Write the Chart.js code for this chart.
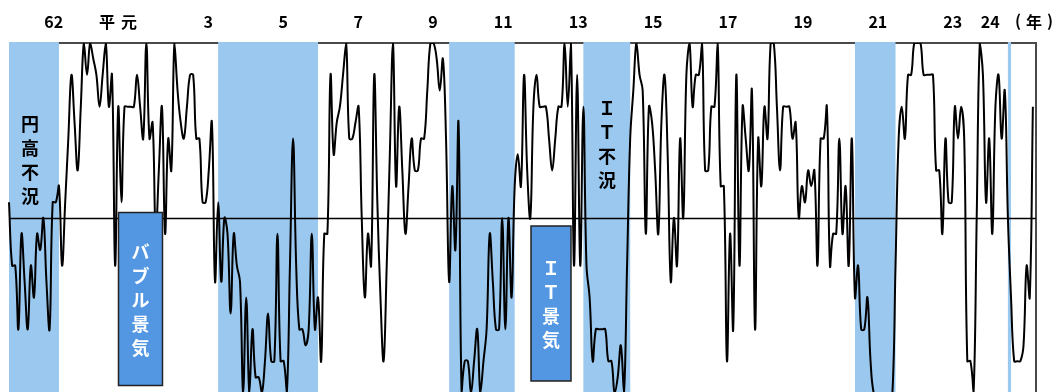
<!DOCTYPE html>
<html>
<head>
<meta charset="utf-8">
<script src="https://cdn.jsdelivr.net/npm/chart.js@4.4.1/dist/chart.umd.min.js"></script>
<style>
  html, body { margin: 0; padding: 0; background: #fff; overflow: hidden; }
  #wrap { width: 1061px; height: 393px; }
</style>
</head>
<body>
<div id="wrap"><canvas id="diChart" width="1061" height="393"></canvas></div>
<script>
// 景気動向指数 一致DI (月次, 1985年7月〜)
const startYear = 1985;
const startMonth = 7;
const monthCount = 330;

const diValues = [
  54.5, 36.4, 36.4, 18.2, 45.5, 31.8, 18.2, 36.4, 27.3, 45.5, 40.9, 50,
  31.8, 18.2, 54.5, 54.5, 59.1, 36.4, 54.5, 72.7, 90.9, 77.3, 63.6, 81.8,
  100, 90.9, 100, 95.5, 90.9, 81.8, 90.9, 100, 81.8, 90.9, 36.4, 81.8,
  54.5, 81.8, 81.8, 81.8, 81.8, 90.9, 81.8, 72.7, 100, 72.7, 77.3, 45.5,
  63.6, 81.8, 45.5, 72.7, 63.6, 100, 86.4, 77.3, 72.7, 81.8, 90.9, 90.9,
  72.7, 72.7, 54.5, 54.5, 63.6, 77.3, 31.8, 54.5, 31.8, 50, 45.5, 22.7,
  45.5, 36.4, 31.8, 0, 27.3, 0, 18.2, 4.5, 4.5, 0, 9.1, 22.7,
  9.1, 9.1, 45.5, 9.1, 9.1, 0, 36.4, 72.7, 36.4, 18.2, 18.2, 13.6,
  18.2, 45.5, 18.2, 27.3, 9.1, 45.5, 45.5, 90.9, 68.2, 77.3, 81.8, 90.9,
  100, 72.7, 72.7, 77.3, 81.8, 50, 27.3, 45.5, 36.4, 90.9, 54.5, 27.3,
  9.1, 36.4, 68.2, 100, 59.1, 81.8, 63.6, 45.5, 59.1, 72.7, 63.6, 63.6,
  72.7, 72.7, 86.4, 100, 100, 95.5, 86.4, 95.5, 72.7, 31.8, 59.1, 40.9,
  77.3, 0, 9.1, 9.1, 0, 9.1, 18.2, 0, 9.1, 18.2, 45.5, 31.8,
  18.2, 18.2, 50, 18.2, 50, 27.3, 59.1, 68.2, 59.1, 90.9, 63.6, 50,
  81.8, 90.9, 81.8, 81.8, 81.8, 72.7, 63.6, 72.7, 81.8, 81.8, 100, 81.8,
  100, 36.4, 90.9, 36.4, 81.8, 36.4, 27.3, 9.1, 18.2, 18.2, 18.2, 18.2,
  9.1, 9.1, 0, 4.5, 13.6, 0, 36.4, 72.7, 86.4, 100, 90.9, 86.4,
  45.5, 81.8, 77.3, 63.6, 45.5, 77.3, 90.9, 68.2, 31.8, 50, 36.4, 72.7,
  50, 90.9, 100, 81.8, 90.9, 90.9, 100, 63.6, 63.6, 81.8, 81.8, 100,
  59.1, 59.1, 9.1, 45.5, 18.2, 90.9, 36.4, 81.8, 72.7, 63.6, 86.4, 18.2,
  72.7, 59.1, 81.8, 72.7, 100, 100, 81.8, 63.6, 81.8, 81.8, 81.8, 72.7,
  77.3, 50, 59.1, 54.5, 63.6, 59.1, 63.6, 36.4, 72.7, 72.7, 81.8, 36.4,
  45.5, 45.5, 72.7, 45.5, 59.1, 36.4, 72.7, 27.3, 36.4, 18.2, 18.2, 27.3,
  9.1, 0, 0, 0, 0, 0, 0, 0, 36.4, 72.7, 81.8, 72.7,
  90.9, 90.9, 100, 100, 100, 90.9, 90.9, 90.9, 90.9, 63.6, 63.6, 45.5,
  72.7, 54.5, 54.5, 81.8, 72.7, 81.8, 72.7, 9.1, 9.1, 0, 50, 100,
  90.9, 54.5, 72.7, 45.5, 81.8, 90.9, 72.7, 86.4, 50, 27.3, 9.1, 9.1,
  9.1, 13.6, 36.4, 27.3, 81.8
];

// 景気後退期 (山〜谷)
const recessions = [
  ['1985-07', '1986-11'],
  ['1991-02', '1993-10'],
  ['1997-04', '1999-01'],
  ['2000-11', '2002-02'],
  ['2008-02', '2009-03'],
  ['2012-03', '2012-04']
];

// 上部の年目盛り (和暦)
const tickYears = [1987, 1989, 1991, 1993, 1995, 1997, 1999, 2001, 2003, 2005, 2007, 2009, 2011, 2012];
const tickLabels = ['62', '平元', '3', '5', '7', '9', '11', '13', '15', '17', '19', '21', '23', '24'];

const monthLabels = [];
for (let i = 0; i < monthCount; i++) {
  const m = startMonth - 1 + i;
  const yy = startYear + Math.floor(m / 12);
  const mm = (m % 12) + 1;
  monthLabels.push(yy + '-' + String(mm).padStart(2, '0'));
}
const monthIndex = ym => monthLabels.indexOf(ym);

const FONT = '"Noto Sans CJK JP", "Noto Sans", sans-serif';

function vertText(ctx, chars, cx, top, step) {
  chars.forEach((c, k) => ctx.fillText(c, cx, top + k * step));
}

const backdrop = {
  id: 'backdrop',
  beforeDatasetsDraw(chart) {
    const { ctx, chartArea: a, scales: { x, y } } = chart;
    ctx.save();
    // frame (top / right)
    ctx.strokeStyle = '#4a4a4a';
    ctx.lineWidth = 2;
    ctx.beginPath();
    ctx.moveTo(a.left, y.getPixelForValue(100));
    ctx.lineTo(a.right, y.getPixelForValue(100));
    ctx.lineTo(a.right, a.bottom);
    ctx.stroke();
    // shaded recession periods
    ctx.fillStyle = '#9ac8ee';
    recessions.forEach(([from, to]) => {
      const x0 = x.getPixelForValue(monthIndex(from));
      const x1 = x.getPixelForValue(monthIndex(to));
      ctx.fillRect(x0, a.top - 1, x1 - x0, a.bottom - a.top + 1);
    });
    // 50 line
    const y50 = Math.round(y.getPixelForValue(50)) + 0.5;
    ctx.strokeStyle = '#000';
    ctx.lineWidth = 1.5;
    ctx.beginPath();
    ctx.moveTo(a.left, y50);
    ctx.lineTo(a.right, y50);
    ctx.stroke();
    ctx.restore();
  }
};

const captions = {
  id: 'captions',
  afterDatasetsDraw(chart) {
    const { ctx, scales: { x } } = chart;
    ctx.save();
    ctx.textAlign = 'center';
    ctx.textBaseline = 'middle';

    // boom boxes
    const boxes = [
      { l: 118.5, t: 212.5, w: 44, h: 173, chars: ['バ', 'ブ', 'ル', '景', '気'], top: 252, step: 24 },
      { l: 531, t: 226, w: 40, h: 155, chars: ['Ｉ', 'Ｔ', '景', '気'], top: 268, step: 24 }
    ];
    boxes.forEach(b => {
      ctx.fillStyle = '#5397e3';
      ctx.fillRect(b.l, b.t, b.w, b.h);
      ctx.strokeStyle = '#222';
      ctx.lineWidth = 1.5;
      ctx.strokeRect(b.l, b.t, b.w, b.h);
      ctx.fillStyle = '#fff';
      ctx.font = 'bold 18px ' + FONT;
      vertText(ctx, b.chars, b.l + b.w / 2, b.top, b.step);
    });

    // recession names
    ctx.fillStyle = '#000';
    ctx.font = 'bold 18px ' + FONT;
    vertText(ctx, ['円', '高', '不', '況'], 30, 124, 24);
    vertText(ctx, ['Ｉ', 'Ｔ', '不', '況'], 607, 108, 24);

    // year ticks along the top
    ctx.textBaseline = 'alphabetic';
    ctx.textAlign = 'right';
    ctx.font = 'bold 16px ' + FONT;
    tickYears.forEach((yr, k) => {
      const px = x.getPixelForValue(monthIndex(yr + '-01')) - 2;
      const label = tickLabels[k];
      if (label.length === 2 && !/\d/.test(label)) {
        ctx.textAlign = 'center';
        ctx.fillText(label[0], px - 31, 28);
        ctx.fillText(label[1], px - 9, 28);
        ctx.textAlign = 'right';
      } else {
        ctx.fillText(label, px, 28);
      }
    });
    ctx.textAlign = 'center';
    ctx.fillText('(', 1018, 27);
    ctx.fillText('年', 1034, 28);
    ctx.fillText(')', 1050, 27);
    ctx.restore();
  }
};

new Chart(document.getElementById('diChart'), {
  type: 'line',
  data: {
    labels: monthLabels,
    datasets: [{
      data: diValues,
      borderColor: '#000',
      borderWidth: 2,
      tension: 0.4,
      pointRadius: 0,
      fill: false
    }]
  },
  options: {
    responsive: false,
    animation: false,
    devicePixelRatio: 1,
    layout: { padding: { left: 9, right: 25, top: 43, bottom: 0 } },
    plugins: { legend: { display: false }, tooltip: { enabled: false } },
    scales: {
      x: { display: false, offset: false },
      y: { display: false, min: 0, max: 100 }
    }
  },
  plugins: [backdrop, captions]
});
</script>
</body>
</html>
